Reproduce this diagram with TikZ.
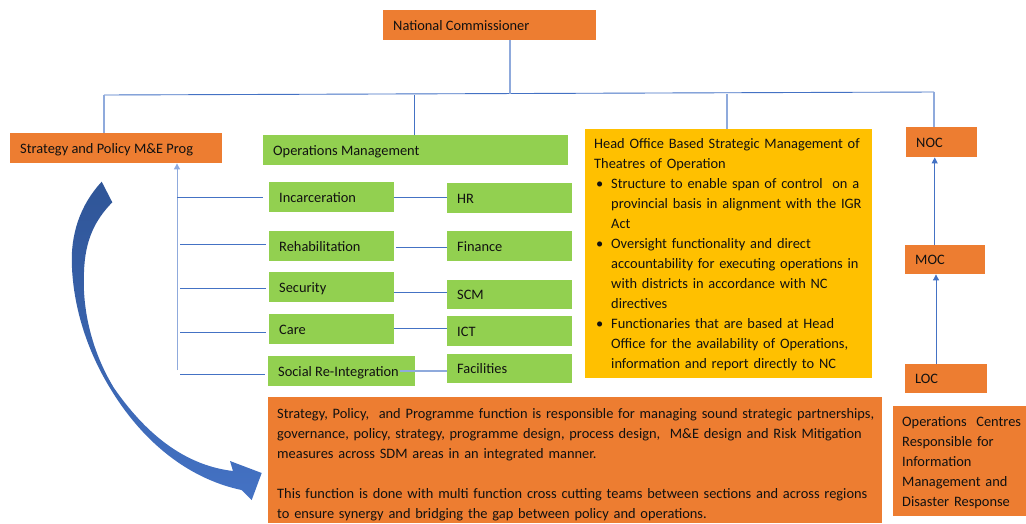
\documentclass[tikz,border=0pt]{standalone}
\usepackage{fontspec}
\setmainfont{Carlito}
\usetikzlibrary{arrows.meta,calc}
\definecolor{orng}{HTML}{ED7D31}
\definecolor{grn}{HTML}{92D050}
\definecolor{yel}{HTML}{FFC000}
\definecolor{lnblue}{HTML}{4472C4}
\definecolor{ltblue}{HTML}{8FAADC}
\definecolor{dkblue}{HTML}{2F5597}
\definecolor{txt}{HTML}{111111}
\newcommand\fs{\fontsize{14.4}{20}\selectfont}
\newcommand\bx[7]{\node[boxbase, fill=#6, minimum width=#4, minimum height=#5] (#1) at (#2,#3) {\makebox[\dimexpr#4pt-20pt\relax][l]{#7}};}
\newcommand\bitem{\par\hangindent=17pt\hangafter=0\noindent\llap{\textbullet\hspace{8pt}}}
\tikzset{
  boxbase/.style={anchor=north west, inner sep=0pt, text height=12pt, text depth=1.5pt, font=\fs, text=txt},
  plainbox/.style={anchor=north west, inner sep=0pt, minimum width=#1},
  txtblock/.style={anchor=north west, inner sep=0pt, align=left, font=\fs, text=txt, text width=#1},
  conn/.style={draw=lnblue, line width=0.9pt},
  lconn/.style={draw=ltblue, line width=1.3pt},
  uptip/.style={-{Triangle[width=6pt,length=6pt]}},
}
\begin{document}
\begin{tikzpicture}[x=1pt,y=-1pt]
\useasboundingbox (0,0) rectangle (1026,523);

% top
\bx{nc}{383}{10}{213}{30}{orng}{National Commissioner}
\bx{strat}{10}{133}{212}{30}{orng}{Strategy and Policy M\&E Prog}
\bx{ops}{263}{135}{305}{30}{grn}{Operations Management}
\bx{noc}{906}{127}{71}{30}{orng}{NOC}
\bx{moc}{905}{245}{80}{29}{orng}{MOC}
\bx{loc}{905}{364}{82}{29}{orng}{LOC}

% operations boxes
\bx{inc}{269}{182}{125}{30}{grn}{Incarceration}
\bx{reh}{269}{231}{125}{30}{grn}{Rehabilitation}
\bx{sec}{269}{272}{125}{30}{grn}{Security}
\bx{care}{269}{314}{125}{30}{grn}{Care}
\bx{soc}{268}{356}{147}{30}{grn}{Social Re-Integration}
\bx{hr}{447}{183}{125}{30}{grn}{HR}
\bx{fin}{447}{231}{125}{30}{grn}{Finance}
\bx{scm}{447}{280}{125}{29}{grn}{SCM}
\bx{ict}{447}{316}{125}{30}{grn}{ICT}
\bx{fac}{447}{354}{125}{29}{grn}{Facilities}

% head office box
\node[plainbox=287, minimum height=249, fill=yel] (ho) at (585,129) {};
\node[txtblock=300] (hotxt) at (594,138.5) {%
Head Office Based Strategic Management of\newline Theatres of Operation
\bitem Structure to enable span of control\ \ on a\newline provincial basis in alignment with the IGR\newline Act
\bitem Oversight functionality and direct\newline accountability for executing operations in\newline with districts in accordance with NC\newline directives
\bitem Functionaries that are based at Head\newline Office for the availability of Operations,\newline information and report directly to NC\par};

% bottom box
\node[plainbox=614, minimum height=126, fill=orng] (sp) at (268,397) {};
\node[txtblock=620] (sptxt) at (277,408.5) {%
Strategy, Policy,\ \ and Programme function is responsible for managing sound strategic partnerships,\\
governance, policy, strategy, programme design, process design,\ \ M\&E design and Risk Mitigation\\
measures across SDM areas in an integrated manner.\\[20pt]
This function is done with multi function cross cutting teams between sections and across regions\\
to ensure synergy and bridging the gap between policy and operations.};

% operations centres box
\node[plainbox=133, minimum height=110, fill=orng] (oc) at (893,406) {};
\node[txtblock=125] (octxt) at (902,416) {%
Operations\ \ Centres\\Responsible for\\Information\\Management and\\Disaster Response};

% bus
\coordinate (busL) at (104,95);
\coordinate (busR) at (934,92);
\coordinate (busN) at (510,94);
\coordinate (busO) at (414,95);
\coordinate (busH) at (727,94);
\draw[conn] (busL) -- (busR);
\draw[lconn] (busN |- nc.south) -- (busN);
\draw[lconn] (busL) -- (busL |- strat.north);
\draw[conn] (busO) -- (busO |- ops.north);
\draw[lconn] (busH) -- (busH |- ho.north);
\draw[lconn] (busR) -- (busR |- noc.north);

% left spine
\coordinate (vb) at (177,370);
\draw[lconn, uptip, line width=1pt] (vb) -- (vb |- strat.south);
\draw[conn] (vb |- inc.west) -- ([xshift=-6pt]inc.west);
\draw[conn] ([xshift=3pt]vb |- 0,244) -- ([xshift=-3pt]reh.west |- 0,244);
\draw[conn] ([xshift=3pt]vb |- 0,288) -- ([xshift=-3pt]sec.west |- 0,288);
\draw[conn] ([xshift=3pt]vb |- 0,332) -- ([xshift=-3pt]care.west |- 0,332);
\draw[conn] ([xshift=3pt]vb |- 0,374) -- ([xshift=-3pt]soc.west |- 0,374);

% right links
\draw[conn] (inc.east) -- (inc.east -| hr.west);
\draw[conn] ([xshift=2pt]reh.east |- 0,247) -- (fin.west |- 0,247);
\draw[conn] (sec.east |- 0,292) -- (scm.west |- 0,292);
\draw[conn] (care.east |- 0,328) -- (ict.west |- 0,328);
\draw[lconn] ([xshift=-15pt]soc.east |- 0,371) -- (fac.west |- 0,371);

% NOC/MOC/LOC
\draw[conn, uptip] ([xshift=-7pt]moc.north -| noc.south) -- ([xshift=-7pt]noc.south);
\coordinate (lm) at (936,364);
\draw[conn, uptip] (lm) -- (lm |- moc.south);

% curved block arrow
\shade[top color=dkblue, bottom color=lnblue, shading angle=0]
  (101.7,181.7)
  .. controls (80,205) and (70,235) .. (72,268)
  .. controls (74,310) and (88,352) .. (110,388)
  .. controls (140,438) and (185,478) .. (241.5,490)
  -- (251.7,500) -- (261.7,473) -- (230,461) -- (233,471)
  .. controls (190,466) and (150,440) .. (114,388)
  .. controls (92,352) and (82,310) .. (84,272)
  .. controls (85,240) and (95,220) .. (112.3,202.3) -- cycle;
\end{tikzpicture}
\end{document}
